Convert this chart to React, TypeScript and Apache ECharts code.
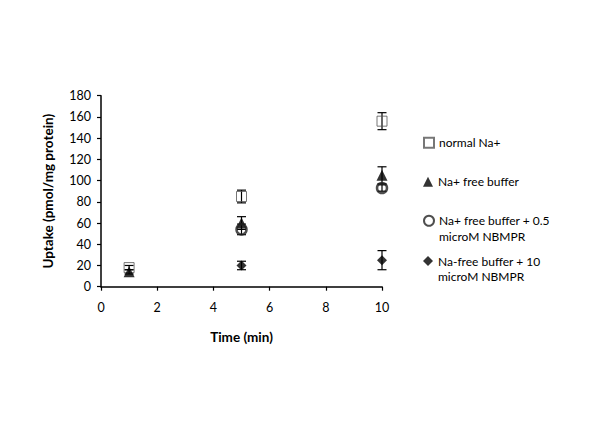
import React, { useEffect, useRef } from "react";
import * as echarts from "echarts";

const seriesNames = [
  "normal Na+",
  "Na+ free buffer",
  "Na+ free buffer + 0.5 microM NBMPR",
  "Na-free buffer + 10 microM NBMPR",
];
const legendLabels = [
  "normal Na+",
  "Na+ free buffer",
  " \nNa+ free buffer + 0.5\nmicroM NBMPR",
  " \nNa-free buffer + 10\nmicroM NBMPR",
];
// [time, mean, error]
const normalNa: number[][] = [
  [1, 18, 2],
  [5, 85, 6],
  [10, 156, 8],
];
const naFree: number[][] = [
  [1, 14, 2],
  [5, 60, 6],
  [10, 105, 8],
];
const naFreeNbmpr05: number[][] = [
  [5, 54, 5],
  [10, 93, 3],
];
const naFreeNbmpr10: number[][] = [
  [5, 20, 4],
  [10, 25, 9],
];
const xTicks = { min: 0, max: 10, interval: 2 };
const yTicks = { min: 0, max: 180, interval: 20 };

const FONT = "Lato, 'Liberation Sans', sans-serif";

export default function App() {
  const ref = useRef<HTMLDivElement>(null);
  useEffect(() => {
    if (!ref.current) return;
    const chart = echarts.init(ref.current, null, { renderer: "svg" });
    const datasets = [normalNa, naFree, naFreeNbmpr05, naFreeNbmpr10];
    const symbols = ["rect", "triangle", "circle", "diamond"];
    const sizes = [10, 11, 10, 10];
    const itemStyles = [
      { color: "rgba(255,255,255,0)", borderColor: "#555", borderWidth: 1 },
      { color: "#000", borderWidth: 0 },
      { color: "rgba(255,255,255,0)", borderColor: "#222", borderWidth: 2.5 },
      { color: "#000", borderWidth: 0 },
    ];
    const errSeries = datasets.map((d, i) => ({
      type: "custom",
      name: "err" + i,
      data: d,
      encode: { x: 0, y: 1 },
      z: 1,
      silent: true,
      renderItem: (params: any, api: any) => {
        const x = api.value(0);
        const y = api.value(1);
        const e = api.value(2);
        const top = api.coord([x, y + e]);
        const bot = api.coord([x, y - e]);
        const w = 4.5;
        return {
          type: "group",
          children: [
            { type: "line", shape: { x1: top[0], y1: top[1], x2: bot[0], y2: bot[1] }, style: { stroke: "#000", lineWidth: 1.2 } },
            { type: "line", shape: { x1: top[0] - w, y1: top[1], x2: top[0] + w, y2: top[1] }, style: { stroke: "#000", lineWidth: 1.2 } },
            { type: "line", shape: { x1: bot[0] - w, y1: bot[1], x2: bot[0] + w, y2: bot[1] }, style: { stroke: "#000", lineWidth: 1.2 } },
          ],
        };
      },
    }));
    const scatterSeries = datasets.map((d, i) => ({
      type: "scatter",
      name: seriesNames[i],
      data: d.map((p) => [p[0], p[1]]),
      symbol: symbols[i],
      symbolSize: sizes[i],
      itemStyle: itemStyles[i],
      z: 2,
    }));
    const centers = [142.7, 181.7, 220.7, 261];
    const lh = 15.5;
    const legends = seriesNames.map((n, i) => {
      const two = legendLabels[i].includes("\n");
      return {
        data: [n],
        left: 423,
        top: two ? centers[i] - 1.5 * lh : centers[i] - lh / 2,
        padding: 0,
        itemWidth: 10,
        itemHeight: 10,
        selectedMode: false,
        formatter: () => legendLabels[i],
        textStyle: {
          fontFamily: FONT,
          fontSize: 12,
          color: "#000",
          lineHeight: lh,
        },
      };
    });
    chart.setOption({
      animation: false,
      backgroundColor: "#fff",
      legend: legends,
      grid: { left: 101, right: 218, top: 95.7, bottom: 138.3 },
      xAxis: {
        type: "value",
        min: xTicks.min,
        max: xTicks.max,
        interval: xTicks.interval,
        name: "Time (min)",
        nameLocation: "middle",
        nameGap: 43,
        nameTextStyle: { fontFamily: FONT, fontSize: 13.5, fontWeight: "bold", color: "#000" },
        axisLine: { lineStyle: { color: "#000", width: 1.5 } },
        axisTick: { show: true, length: 4, lineStyle: { color: "#000", width: 1.2 } },
        axisLabel: { fontFamily: FONT, fontSize: 12.5, color: "#000", margin: 14 },
        splitLine: { show: false },
      },
      yAxis: {
        type: "value",
        min: yTicks.min,
        max: yTicks.max,
        interval: yTicks.interval,
        name: "Uptake (pmol/mg protein)",
        nameLocation: "middle",
        nameGap: 46,
        nameTextStyle: { fontFamily: FONT, fontSize: 13.5, fontWeight: "bold", color: "#000" },
        axisLine: { show: true, lineStyle: { color: "#000", width: 1.5 } },
        axisTick: { show: true, length: 4, lineStyle: { color: "#000", width: 1.2 } },
        axisLabel: { fontFamily: FONT, fontSize: 12.5, color: "#000", margin: 10 },
        splitLine: { show: false },
      },
      series: [...errSeries, ...scatterSeries],
    });
    return () => chart.dispose();
  }, []);
  return <div ref={ref} style={{ width: 600, height: 425, margin: -8 }} />;
}
